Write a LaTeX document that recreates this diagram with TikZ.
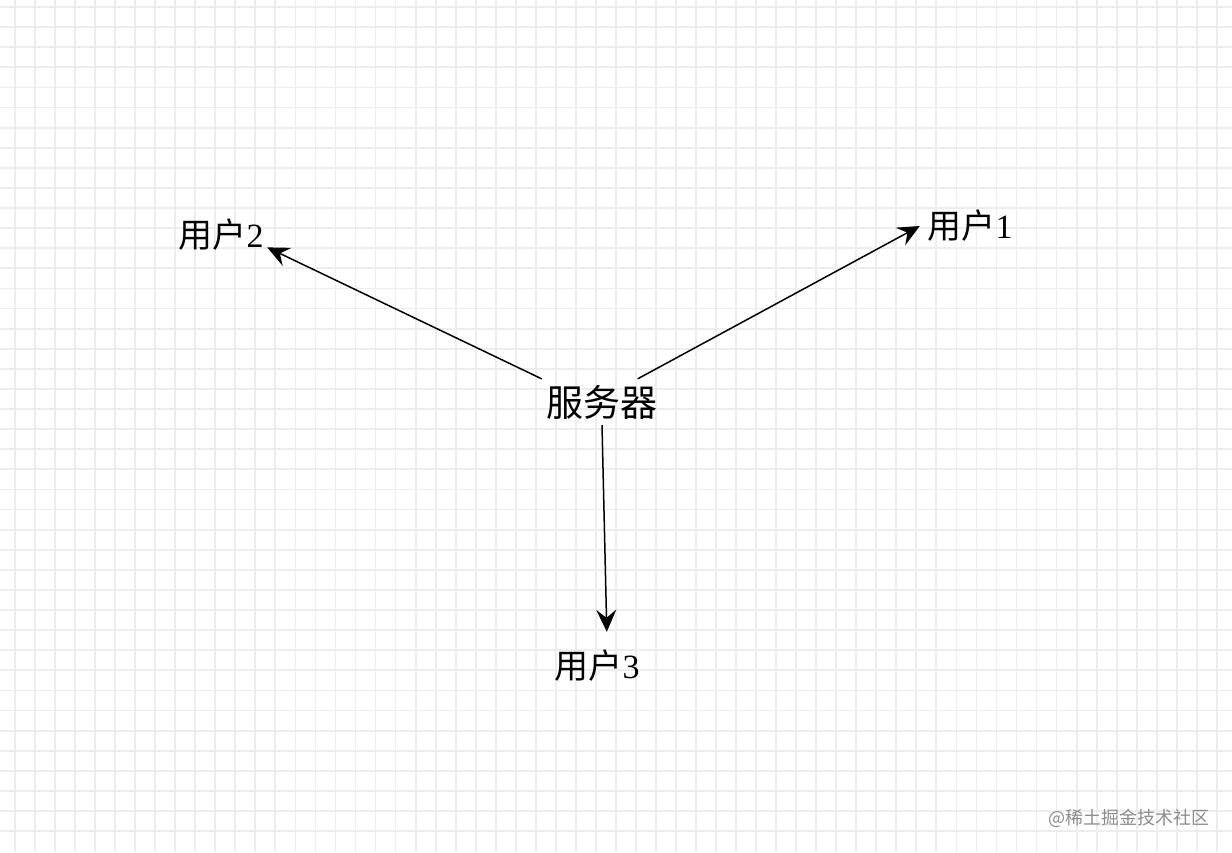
\documentclass[tikz,border=0pt]{standalone}
\usepackage{fontspec}
\setmainfont{Liberation Serif}
\newfontfamily\cjk{Noto Sans CJK SC}
\usetikzlibrary{positioning, arrows}
\usetikzlibrary{arrows.meta}

\begin{document}
\begin{tikzpicture}[x=1pt, y=-1pt, >={Stealth[length=22pt, width=20pt, inset=8pt]},
    party/.style={inner sep=0pt, font=\fontsize{34}{38}\selectfont},
    gridline/.style={draw=black!7, line width=1.8pt}]

    \useasboundingbox (0,0) rectangle (1232,852);
    \fill[white] (0,0) rectangle (1232,852);

    % Background grid
    \foreach \i in {0,...,60} {
        \draw[gridline] ({15+20.03*\i},0) -- ({15+20.03*\i},852);
    }
    \foreach \j in {0,...,41} {
        \draw[gridline] (0,{7+20.1*\j}) -- (1232,{7+20.1*\j});
    }

    % Define nodes
    \node[party, font=\fontsize{37}{40}\selectfont, minimum width=120pt, minimum height=46pt] (server) at (602,402) {\cjk 服务器};
    \node[party, minimum width=100pt, minimum height=40pt] (user1) at (970,226) {{\cjk 用户}1};
    \node[party, minimum width=92pt, minimum height=40pt] (user2) at (221,235) {{\cjk 用户}2};
    \node[party, minimum width=90pt, minimum height=68pt] (user3) at (597,666) {{\cjk 用户}3};
    \node[font=\fontsize{18}{20}\selectfont\cjk, text=black!45, inner sep=0pt] (mark) at (1129,818) {@稀土掘金技术社区};

    % Draw edges with arrows
    \draw[->, line width=1.5pt] (server.33) -- (user1.west);
    \draw[->, line width=1.5pt] (server.159) -- (user2.-15);
    \draw[->, line width=1.5pt] (server.270) -- (user3.74);

\end{tikzpicture}
\end{document}
